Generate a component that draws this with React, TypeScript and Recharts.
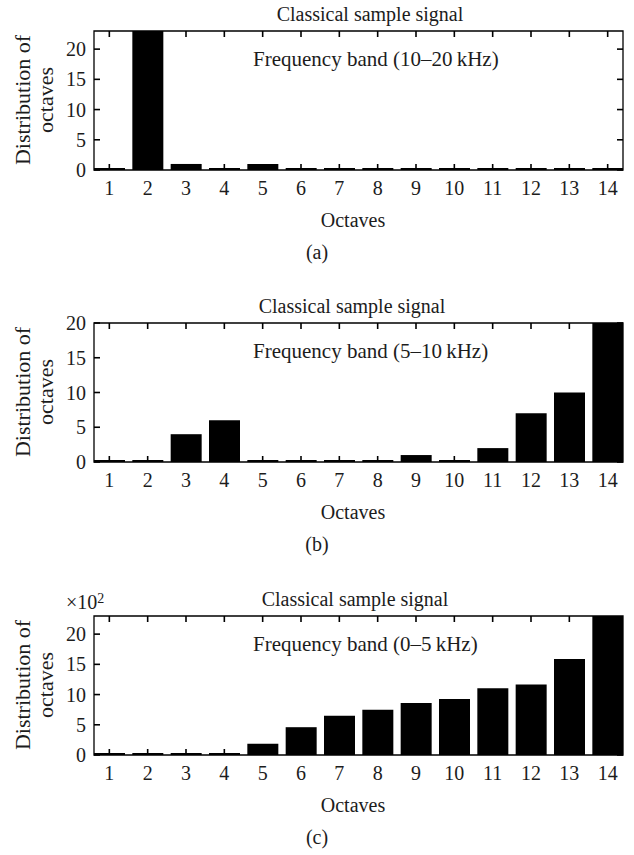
import React from 'react';
import { ComposedChart, Bar, Line, XAxis, YAxis, ReferenceArea } from 'recharts';

const octaves = [1, 2, 3, 4, 5, 6, 7, 8, 9, 10, 11, 12, 13, 14];
const highBand = [0, 30, 1, 0, 1, 0, 0, 0, 0, 0, 0, 0, 0, 0];
const midBand = [0, 0, 4, 6, 0, 0, 0, 0, 1, 0, 2, 7, 10, 20];
const lowBand = [0, 0, 0, 0.25, 1.85, 4.6, 6.5, 7.5, 8.6, 9.25, 11.05, 11.65, 15.9, 27];
const yTicks = [0, 5, 10, 15, 20];

const panelTitle = 'Classical sample signal';
const bandLabels = ['Frequency band (10\u201320\u2009kHz)', 'Frequency band (5\u201310\u2009kHz)', 'Frequency band (0\u20135\u2009kHz)'];
const panelLetters = ['(a)', '(b)', '(c)'];
const yMaxes = [23, 20, 23];
const seriesList = [highBand, midBand, lowBand];
const xDomain = [0.6, 14.4];

const FONT = "'Liberation Serif', 'Times New Roman', serif";
const TXT = '#1c1c1c';
const FS = 20;
const TL = 6;
const TC = '#000';
const TW = 1.6;

const LeftTick = (p: any) => (
  <g>
    <path d={`M${p.x},${p.y}L${p.x + TL},${p.y}`} stroke={TC} strokeWidth={TW} fill="none" />
    <text x={p.x - 8} y={p.y} dy="0.35em" textAnchor="end" fontFamily={FONT} fontSize={FS} fill={TXT}>
      {p.payload.value}
    </text>
  </g>
);
const RightTick = (p: any) => (
  <g>
    <path d={`M${p.x - TL},${p.y}L${p.x},${p.y}`} stroke={TC} strokeWidth={TW} fill="none" />
  </g>
);
const BottomTick = (p: any) => (
  <g>
    <path d={`M${p.x},${p.y}L${p.x},${p.y - TL}`} stroke={TC} strokeWidth={TW} fill="none" />
    <text x={p.x} y={p.y + 18} dy="0.35em" textAnchor="middle" fontFamily={FONT} fontSize={FS} fill={TXT}>
      {p.payload.value}
    </text>
  </g>
);
const TopTick = (p: any) => (
  <g>
    <path d={`M${p.x},${p.y}L${p.x},${p.y + TL}`} stroke={TC} strokeWidth={TW} fill="none" />
  </g>
);

const titleCx = [370, 352, 355];
const panelTops = [0, 292, 585];

function Panel({ idx }: { idx: number }) {
  const data = octaves.map((o, i) => ({ octave: o, value: seriesList[idx][i] }));
  const yMax = yMaxes[idx];
  return (
    <div style={{ position: 'absolute', left: 0, top: panelTops[idx], width: 634, height: 270 }}>
      <ComposedChart width={634} height={200} data={data} margin={{ top: 30, right: 10, bottom: 0, left: 54 }} barCategoryGap="10%">
        <XAxis
          dataKey="octave"
          type="number"
          domain={xDomain}
          ticks={octaves}
          allowDataOverflow
          interval={0}
          height={30}
          tickSize={0}
          tickMargin={0}
          tick={<BottomTick />}
          axisLine={false}
        />
        <XAxis
          xAxisId="top"
          orientation="top"
          dataKey="octave"
          type="number"
          domain={xDomain}
          ticks={octaves}
          allowDataOverflow
          interval={0}
          height={1}
          tickSize={0}
          tickMargin={0}
          tick={<TopTick />}
          axisLine={false}
        />
        <YAxis
          type="number"
          domain={[0, yMax]}
          ticks={yTicks}
          allowDataOverflow
          interval={0}
          width={40}
          tickSize={0}
          tickMargin={0}
          tick={<LeftTick />}
          axisLine={false}
        />
        <YAxis
          yAxisId="right"
          orientation="right"
          type="number"
          domain={[0, yMax]}
          ticks={yTicks}
          allowDataOverflow
          interval={0}
          width={1}
          tickSize={0}
          tickMargin={0}
          tick={<RightTick />}
          axisLine={false}
        />
        <Bar dataKey="value" fill="#000" minPointSize={2} isAnimationActive={false} />
        <Line
          xAxisId="top"
          yAxisId="right"
          dataKey="value"
          stroke="none"
          strokeOpacity={0}
          dot={false}
          activeDot={false}
          legendType="none"
          isAnimationActive={false}
        />
        <ReferenceArea
          x1={xDomain[0]}
          x2={xDomain[1]}
          y1={0}
          y2={yMax}
          fill="none"
          fillOpacity={0}
          stroke="#000"
          strokeWidth={1.3}
          ifOverflow="visible"
        />
      </ComposedChart>
      <svg width={634} height={270} style={{ position: 'absolute', left: 0, top: 0, pointerEvents: 'none' }}>
        <g fontFamily={FONT} fontSize={FS} fill={TXT}>
          <text x={titleCx[idx]} y={14} dy="0.35em" textAnchor="middle">{panelTitle}</text>
          <text x={253} y={59} dy="0.35em" textAnchor="start" fontSize={21}>{bandLabels[idx]}</text>
          <text x={22} y={100} dy="0.35em" textAnchor="middle" fontSize={22} transform="rotate(-90 22 100)">Distribution of</text>
          <text x={45} y={100} dy="0.35em" textAnchor="middle" fontSize={22} transform="rotate(-90 45 100)">octaves</text>
          <text x={353} y={220} dy="0.35em" textAnchor="middle">Octaves</text>
          <text x={317} y={252} dy="0.35em" textAnchor="middle">{panelLetters[idx]}</text>
          {idx === 2 && (
            <text x={66} y={17} dy="0.35em" textAnchor="start">
              {'\u00d710'}
              <tspan fontSize={14} dy="-0.45em">2</tspan>
            </text>
          )}
        </g>
      </svg>
    </div>
  );
}

export default function App() {
  return (
    <div style={{ position: 'absolute', left: 0, top: 0, width: 634, height: 855, background: '#fff' }}>
      <Panel idx={0} />
      <Panel idx={1} />
      <Panel idx={2} />
    </div>
  );
}
